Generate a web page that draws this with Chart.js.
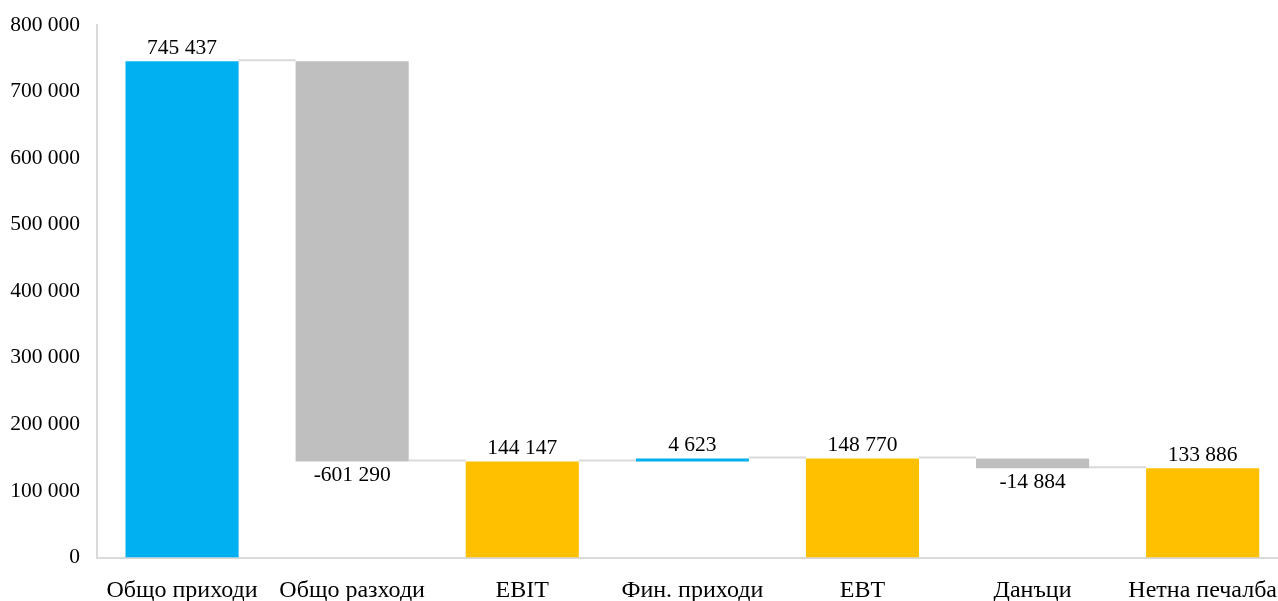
<!DOCTYPE html>
<html>
<head>
<meta charset="utf-8">
<script src="https://cdn.jsdelivr.net/npm/chart.js@4.4.1/dist/chart.umd.min.js"></script>
<style>
  html, body { margin: 0; padding: 0; background: #ffffff; overflow: hidden; }
  #wrap { position: relative; width: 1296px; height: 606px; margin-top: -5px; }
</style>
</head>
<body>
<div id="wrap"><canvas id="c"></canvas></div>
<script>
const categories = ['Общо приходи', 'Общо разходи', 'EBIT', 'Фин. приходи', 'EBT', 'Данъци', 'Нетна печалба'];
const barStarts = [0, 144147, 0, 144147, 0, 133886, 0];
const barEnds = [745437, 745437, 144147, 148770, 148770, 148770, 133886];
const changes = [745437, -601290, 144147, 4623, 148770, -14884, 133886];
const barColors = ['#00B0F0', '#BFBFBF', '#FFC000', '#00B0F0', '#FFC000', '#BFBFBF', '#FFC000'];
const yTicks = [0, 100000, 200000, 300000, 400000, 500000, 600000, 700000, 800000];

const FONT = "'Liberation Serif', 'Times New Roman', serif";
const fmt = v => {
  const s = Math.abs(Math.round(v)).toString().replace(/\B(?=(\d{3})+(?!\d))/g, ' ');
  return (v < 0 ? '-' : '') + s;
};

const waterfallExtras = {
  id: 'waterfallExtras',
  afterDatasetsDraw(chart) {
    const ctx = chart.ctx;
    const x = chart.scales.x, y = chart.scales.y;
    const meta = chart.getDatasetMeta(0);
    ctx.save();
    // connectors
    ctx.strokeStyle = '#D9D9D9';
    ctx.lineWidth = 2;
    for (let i = 0; i < categories.length - 1; i++) {
      const level = changes[i] < 0 ? barStarts[i] : barEnds[i];
      const py = y.getPixelForValue(level);
      const b0 = meta.data[i], b1 = meta.data[i + 1];
      ctx.beginPath();
      ctx.moveTo(b0.x + b0.width / 2, py - 1);
      ctx.lineTo(b1.x - b1.width / 2, py - 1);
      ctx.stroke();
    }
    // labels
    ctx.fillStyle = '#000000';
    ctx.font = '21.5px ' + FONT;
    ctx.textAlign = 'center';
    for (let i = 0; i < categories.length; i++) {
      const b = meta.data[i];
      if (changes[i] < 0) {
        ctx.textBaseline = 'top';
        ctx.fillText(fmt(changes[i]), b.x, y.getPixelForValue(barStarts[i]) + 3);
      } else {
        ctx.textBaseline = 'bottom';
        ctx.fillText(fmt(changes[i]), b.x, y.getPixelForValue(barEnds[i]) - 2);
      }
    }
    ctx.restore();
  }
};

new Chart(document.getElementById('c'), {
  type: 'bar',
  data: {
    labels: categories,
    datasets: [{
      data: barStarts.map((s, i) => [s, barEnds[i]]),
      backgroundColor: barColors,
      borderWidth: 0,
      barPercentage: 1,
      categoryPercentage: 0.665
    }]
  },
  options: {
    responsive: true,
    maintainAspectRatio: false,
    animation: false,
    layout: { padding: { top: 0, right: 0, left: 0, bottom: 0 } },
    plugins: { legend: { display: false }, tooltip: { enabled: false }, title: { display: false } },
    scales: {
      x: {
        grid: { display: false, drawTicks: false },
        border: { color: '#D9D9D9', width: 2 },
        ticks: { color: '#000000', font: { family: FONT, size: 24 }, padding: 19, maxRotation: 0, autoSkip: false },
        afterFit(s) { s.height = 43.5; }
      },
      y: {
        min: 0, max: 800000,
        afterBuildTicks(s) { s.ticks = yTicks.map(v => ({ value: v })); },
        grid: { display: false, drawTicks: false },
        border: { color: '#D9D9D9', width: 2 },
        ticks: { color: '#000000', font: { family: FONT, size: 21.5 }, padding: 17, callback: v => fmt(v) },
        afterFit(s) { s.width = 97; }
      }
    }
  },
  plugins: [waterfallExtras]
});
</script>
</body>
</html>
